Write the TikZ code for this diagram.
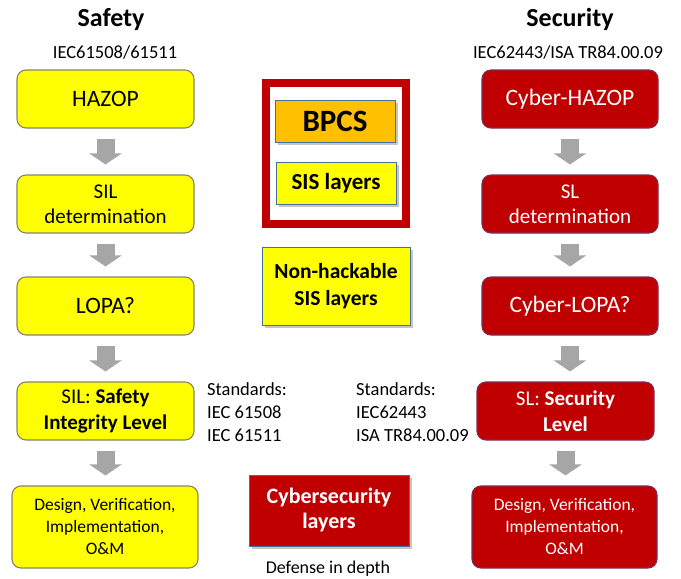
\documentclass[tikz,border=0pt]{standalone}
\usepackage{fontspec}
\setmainfont{Carlito}
\usetikzlibrary{arrows.meta,shadows}
\definecolor{safeyellow}{HTML}{FFFF00}
\definecolor{secred}{HTML}{C00000}
\definecolor{secline}{HTML}{7A2E5A}
\definecolor{safeline}{HTML}{85856A}
\definecolor{bpcsorange}{HTML}{FFC000}
\definecolor{layerline}{HTML}{41719C}
\definecolor{flowgray}{HTML}{A6A6A6}
\begin{document}
\begin{tikzpicture}[x=1pt,y=-1pt,
  stepbox/.style={rectangle, rounded corners=9pt, line width=1.1pt,
    minimum width=177pt, minimum height=58pt, inner sep=0pt, align=center},
  safestep/.style={stepbox, draw=safeline, fill=safeyellow, text=black},
  secstep/.style={stepbox, draw=secline, fill=secred, text=white},
  layerbox/.style={rectangle, draw=layerline, line width=1pt, inner sep=0pt, align=center,
    drop shadow={shadow xshift=2.5pt, shadow yshift=-2.5pt, fill=black!45, opacity=0.5}},
  flow/.style={draw=flowgray, line width=18pt, -{Triangle[width=32pt,length=11pt]},
    shorten <=10pt, shorten >=10pt},
  fbig/.style={font=\fontsize{23.5}{27}\selectfont},
  fmid/.style={font=\fontsize{21}{25}\selectfont},
  fsmall/.style={font=\fontsize{17.5}{22}\selectfont},
  fnote/.style={font=\fontsize{18.5}{23}\selectfont},
  ftitle/.style={font=\fontsize{26}{30}\selectfont\bfseries}]

\fill[white] (0,0) rectangle (681,579);
\useasboundingbox (0,0) rectangle (681,579);

% column headings
\node[ftitle, anchor=base, inner sep=0pt] (safetitle) at (111,26) {Safety};
\node[fnote, anchor=base, inner sep=0pt] (safestd) at (115,58) {IEC61508/61511};
\node[ftitle, anchor=base, inner sep=0pt] (sectitle) at (570,26) {Security};
\node[fnote, anchor=base, inner sep=0pt] (secstd) at (568,58) {IEC62443/ISA TR84.00.09};

% safety lifecycle
\node[safestep, fbig] (hazop) at (105.5,99) {HAZOP};
\node[safestep, fmid] (sildet) at (105.5,204) {SIL\\determination};
\node[safestep, fbig] (lopa) at (105.5,306) {LOPA?};
\node[safestep, font=\fontsize{21}{26}\selectfont] (sil) at (105.5,411) {SIL: \textbf{Safety}\\\textbf{Integrity Level}};
\node[safestep, fsmall, minimum width=186pt, minimum height=82pt] (design) at (105,527)
  {Design, Verification,\\Implementation,\\O\&M};

% security lifecycle
\node[secstep, fbig, minimum width=176pt] (chazop) at (570,99) {Cyber-HAZOP};
\node[secstep, fmid, minimum width=176pt] (sldet) at (570,204) {SL\\determination};
\node[secstep, fbig, minimum width=176pt] (clopa) at (570,306) {Cyber-LOPA?};
\node[secstep, font=\fontsize{21}{26}\selectfont] (sl) at (565.5,411) {SL: \textbf{Security}\\\textbf{Level}};
\node[secstep, fsmall, minimum width=185pt, minimum height=82pt] (sdesign) at (564.5,527)
  {Design, Verification,\\Implementation,\\O\&M};

% flow arrows
\foreach \a/\b in {hazop/sildet, sildet/lopa, lopa/sil, sil/design,
                   chazop/sldet, sldet/clopa, clopa/sl, sl/sdesign}
  \draw[flow] (\a.south) -- (\a.south |- \b.north);

% protection layers in the middle
\node[draw=secred, line width=8pt, minimum width=140pt, minimum height=141pt, inner sep=0pt]
  (frame) at (336,153.5) {};
\node[layerbox, fill=bpcsorange, minimum width=120pt, minimum height=42pt,
  font=\fontsize{31}{34}\selectfont\bfseries] (bpcs) at (335,121) {BPCS};
\node[layerbox, fill=safeyellow, minimum width=120pt, minimum height=42pt,
  font=\fontsize{23}{27}\selectfont\bfseries] (sis) at (336,183) {SIS layers};
\node[layerbox, fill=safeyellow, minimum width=148pt, minimum height=78pt,
  font=\fontsize{21.5}{27}\selectfont\bfseries] (nonhack) at (336,286) {Non-hackable\\SIS layers};
\node[layerbox, fill=secred, text=white, minimum width=160pt, minimum height=71pt,
  font=\fontsize{22}{25}\selectfont\bfseries] (cyber) at (329,510.5) {Cybersecurity\\layers};
\node[font=\fontsize{18}{22}\selectfont, anchor=base, inner sep=0pt] (depth) at (328,573) {Defense in depth};

% referenced standards
\node[fnote, anchor=north west, align=left, inner sep=0pt] (safenorms) at (207,382)
  {Standards:\\IEC 61508\\IEC 61511};
\node[fnote, anchor=north west, align=left, inner sep=0pt] (secnorms) at (356,382)
  {Standards:\\IEC62443\\ISA TR84.00.09};
\end{tikzpicture}
\end{document}
